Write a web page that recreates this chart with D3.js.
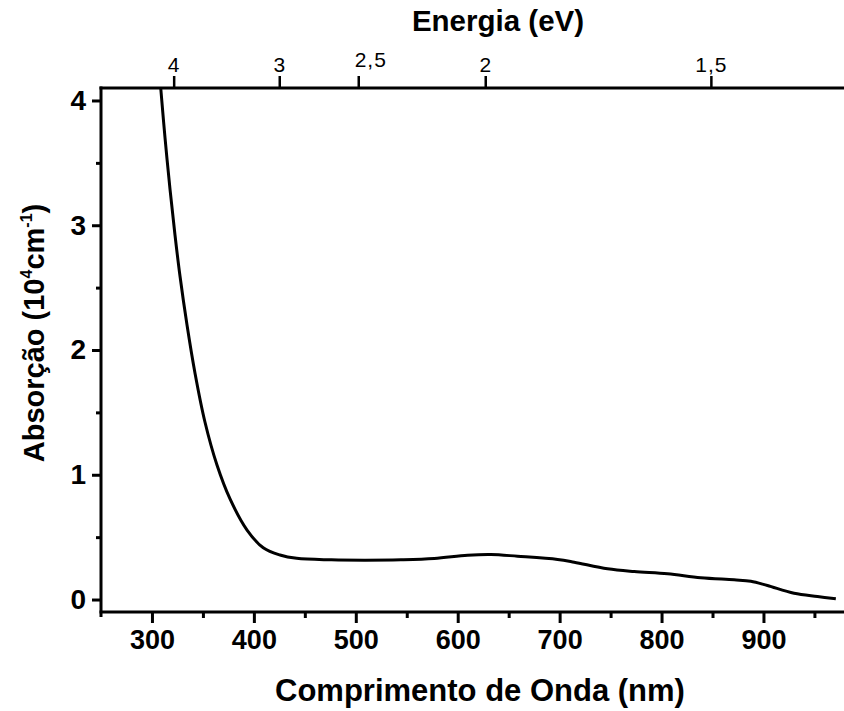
<!DOCTYPE html>
<html><head><meta charset="utf-8">
<script src="https://cdn.jsdelivr.net/npm/d3@7"></script>
<style>
html,body{margin:0;padding:0;background:#fff;overflow:hidden}
text{font-family:"Liberation Sans",Arial,sans-serif;fill:#000}
</style></head>
<body>
<svg id="c" width="844" height="711"></svg>
<script>
// wavelength (nm) and absorption (10^4 cm^-1)
const wavelength = [306.5, 308.6, 312.8, 317.7, 322.6, 327.5, 334.4, 342.2, 352.0, 363.8, 376.6, 393.3, 409.2, 425.6, 442.0, 476.0, 508.3, 544.3, 576.9, 609.7, 632.5, 658.7, 698.0, 714.3, 747.0, 773.1, 805.9, 838.5, 871.2, 887.6, 903.9, 930.0, 953.0, 971.0];
const absorption = [4.31, 4.10, 3.703, 3.290, 2.922, 2.593, 2.200, 1.816, 1.423, 1.078, 0.806, 0.557, 0.415, 0.357, 0.330, 0.318, 0.315, 0.318, 0.328, 0.355, 0.361, 0.347, 0.321, 0.299, 0.246, 0.224, 0.206, 0.174, 0.158, 0.147, 0.112, 0.050, 0.024, 0.006];
const xMajorTicks = [300, 400, 500, 600, 700, 800, 900];
const xMinorTicks = [350, 450, 550, 650, 750, 850, 950];
const yMajorTicks = [0, 1, 2, 3, 4];
const yMinorTicks = [0.5, 1.5, 2.5, 3.5];
const energyLabels = ["4", "3", "2,5", "2", "1,5"];
const energyTickNm = [321.3, 424.9, 502.4, 627.0, 848.4];

const svg = d3.select("#c");
const L = 101, R = 845, T = 88, B = 612;
const x = d3.scaleLinear().domain([250, 980]).range([L, R]);
const y = d3.scaleLinear().domain([-0.1, 4.1]).range([B, T]);

svg.append("defs").append("clipPath").attr("id","clip")
  .append("rect").attr("x", L).attr("y", T).attr("width", R - L + 10).attr("height", B - T);

function styleAxis(g){
  g.select(".domain").remove();
  g.selectAll(".tick line").attr("stroke","#000").attr("stroke-width",3);
}
// bottom
svg.append("g").attr("transform",`translate(0,${B})`)
  .call(d3.axisBottom(x).tickValues(xMajorTicks).tickSize(11).tickPadding(7).tickFormat(d3.format("d")))
  .call(styleAxis)
  .call(g=>g.selectAll("text").attr("font-size",27).attr("font-weight","bold"));
svg.append("g").attr("transform",`translate(0,${B})`)
  .call(d3.axisBottom(x).tickValues(xMinorTicks).tickSize(6).tickFormat(""))
  .call(styleAxis);
// left
svg.append("g").attr("transform",`translate(${L},0)`)
  .call(d3.axisLeft(y).tickValues(yMajorTicks).tickSize(9).tickPadding(6).tickFormat(d3.format("d")))
  .call(styleAxis)
  .call(g=>g.selectAll("text").attr("font-size",28).attr("font-weight","bold"));
svg.append("g").attr("transform",`translate(${L},0)`)
  .call(d3.axisLeft(y).tickValues(yMinorTicks).tickSize(5).tickFormat(""))
  .call(styleAxis);
// top (energy)
svg.append("g").attr("transform",`translate(0,${T})`)
  .call(d3.axisTop(x).tickValues(energyTickNm).tickSize(12).tickPadding(4)
        .tickFormat((d,i)=>energyLabels[i]))
  .call(g=>{g.select(".domain").remove();
           g.selectAll(".tick line").attr("stroke","#000").attr("stroke-width",2.5);})
  .call(g=>g.selectAll("text").attr("font-size",21).attr("font-weight","normal")
     .attr("letter-spacing",1)
     .attr("dx",(d,i)=>energyLabels[i]==="2,5"?12:0)
     .attr("dy",(d,i)=>energyLabels[i]==="2,5"?-5:0));

// frame lines
svg.append("line").attr("x1",L).attr("x2",L).attr("y1",T-1.5).attr("y2",B+5).attr("stroke","#000").attr("stroke-width",3);
svg.append("line").attr("x1",L-1.5).attr("x2",850).attr("y1",B).attr("y2",B).attr("stroke","#000").attr("stroke-width",3);
svg.append("line").attr("x1",L-1.5).attr("x2",850).attr("y1",T).attr("y2",T).attr("stroke","#000").attr("stroke-width",3);

// curve
const pts = wavelength.map((w,i)=>[w, absorption[i]]);
svg.append("path").attr("clip-path","url(#clip)")
  .datum(pts)
  .attr("fill","none").attr("stroke","#000").attr("stroke-width",3).attr("stroke-linejoin","round")
  .attr("d", d3.line().x(d=>x(d[0])).y(d=>y(d[1])).curve(d3.curveCatmullRom.alpha(0.5)));

// titles
svg.append("text").attr("x",498).attr("y",31).attr("text-anchor","middle")
  .attr("font-size",29.5).attr("font-weight","bold").text("Energia (eV)");
svg.append("text").attr("x",480).attr("y",701).attr("text-anchor","middle")
  .attr("font-size",31).attr("font-weight","bold").text("Comprimento de Onda (nm)");
const yl = svg.append("text").attr("transform","translate(44,333) rotate(-90)").attr("text-anchor","middle")
  .attr("font-size",29).attr("font-weight","bold");
yl.append("tspan").text("Absorção (10");
yl.append("tspan").attr("font-size",16).attr("dy",-12).text("4");
yl.append("tspan").attr("dy",12).text("cm");
yl.append("tspan").attr("font-size",16).attr("dy",-12).text("-1");
yl.append("tspan").attr("dy",12).text(")");
</script>
</body></html>
